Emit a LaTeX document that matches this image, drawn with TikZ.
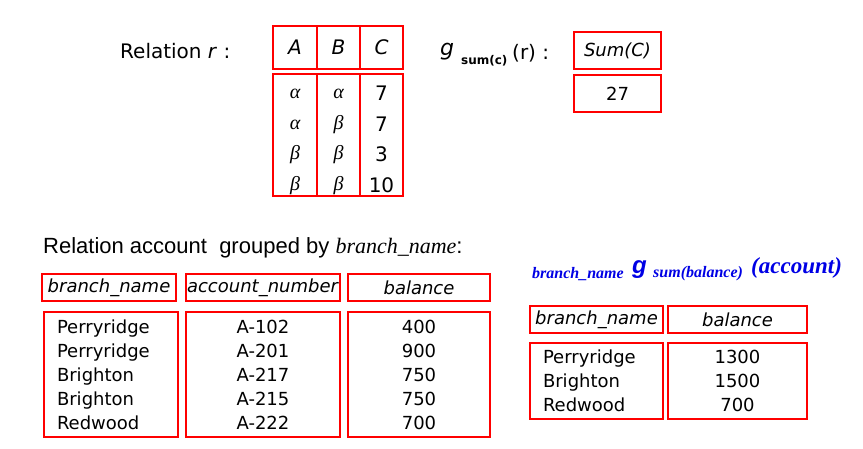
\documentclass[tikz,border=0pt]{standalone}
\usepackage{fontspec}
\setmainfont{DejaVu Sans}
\newfontfamily\arialfont{Liberation Sans}
\newfontfamily\timesfont{Liberation Serif}
\newcommand{\grk}[1]{{\timesfont\itshape #1}}
\colorlet{boxRed}{red}
\colorlet{titleBlue}{blue!90!black}

\begin{document}
\begin{tikzpicture}[x = 1pt, y = -1pt,
	cell/.style = {draw = boxRed, line width = 1.3pt, inner sep = 0pt, font = \fontsize{18}{24}\selectfont},
	big/.style = {font = \fontsize{20}{30.5}\selectfont},
	blue title/.style = {titleBlue, inner sep = 0pt, anchor = base west}]
		\useasboundingbox (0, 0) rectangle (863, 448);
		%%%%%%%%%%%%% relation r
		\node [anchor = base west, inner sep = 0pt, big] (relR) at (120, 58) {Relation \textit{r} :};
		\node [cell, big, minimum width = 44, minimum height = 43] (hA) at (295, 47.5) {\textit{A}};
		\node [cell, big, minimum width = 43, minimum height = 43] (hB) at (338.5, 47.5) {\textit{B}};
		\node [cell, big, minimum width = 43, minimum height = 43] (hC) at (381.5, 47.5) {\textit{C}};
		\node [cell, big, minimum width = 44, minimum height = 122, align = center] (bA) at (295, 135)
			{\rule{0pt}{23pt}\grk{α}\\\grk{α}\\\grk{β}\\\grk{β}};
		\node [cell, big, minimum width = 43, minimum height = 122, align = center] (bB) at (338.5, 135)
			{\rule{0pt}{23pt}\grk{α}\\\grk{β}\\\grk{β}\\\grk{β}};
		\node [cell, big, minimum width = 43, minimum height = 122, align = center] (bC) at (381.5, 135)
			{\rule{0pt}{23pt}7\\7\\3\\10};
		%%%%%%%%%%%%% g sum(c) (r)
		\node [anchor = base west, inner sep = 0pt, font = \fontsize{22}{26}\selectfont\itshape] (gOp) at (440, 55) {g};
		\node [anchor = base west, inner sep = 0pt, font = \fontsize{12}{14}\selectfont\bfseries] (gSub) at (461, 64) {sum(c)};
		\node [anchor = base west, inner sep = 0pt, big] (gArg) at (512, 59) {(r) :};
		\node [cell, minimum width = 87, minimum height = 37] (hSum) at (617.5, 50.5) {\textit{Sum(C)}};
		\node [cell, minimum width = 87, minimum height = 37] (bSum) at (617.5, 93.5) {27};
		%%%%%%%%%%%%% relation account
		\node [anchor = base west, inner sep = 0pt, font = \fontsize{22}{26}\selectfont] (relAcc) at (43, 253)
			{\arialfont Relation account\ \ grouped by \timesfont\itshape branch\_name\upshape\arialfont:};
		\node [cell, minimum width = 134, minimum height = 27] (hBn) at (109, 287.5) {\textit{branch\_name}};
		\node [cell, minimum width = 154, minimum height = 27] (hAn) at (263, 287.5) {\textit{account\_number}};
		\node [cell, minimum width = 142, minimum height = 27] (hBal) at (419, 287.5) {\textit{balance}};
		\node [cell, minimum width = 134, minimum height = 125, text width = 108, align = left] (bBn) at (111, 374.5)
			{Perryridge\\Perryridge\\Brighton\\Brighton\\Redwood};
		\node [cell, minimum width = 154, minimum height = 125, align = center] (bAn) at (263, 374.5)
			{A-102\\A-201\\A-217\\A-215\\A-222};
		\node [cell, minimum width = 142, minimum height = 125, align = center] (bBal) at (419, 374.5)
			{400\\900\\750\\750\\700};
		%%%%%%%%%%%%% branch_name g sum(balance) (account)
		\node [blue title, font = \fontsize{16}{18}\selectfont\timesfont\bfseries\itshape] (tBn) at (532, 278) {branch\_name};
		\node [blue title, font = \fontsize{24}{26}\selectfont\arialfont\bfseries\itshape] (tG) at (632, 273) {g};
		\node [blue title, font = \fontsize{16}{18}\selectfont\timesfont\bfseries\itshape] (tSum) at (653, 277) {sum(balance)};
		\node [blue title, font = \fontsize{23}{25}\selectfont\timesfont\bfseries\itshape] (tAcc) at (751, 273) {(account)};
		\node [cell, minimum width = 133, minimum height = 27] (hRBn) at (596.5, 319.5) {\textit{branch\_name}};
		\node [cell, minimum width = 139, minimum height = 27] (hRBal) at (737.5, 319.5) {\textit{balance}};
		\node [cell, minimum width = 133, minimum height = 76, text width = 107, align = left] (bRBn) at (596.5, 381)
			{Perryridge\\Brighton\\Redwood};
		\node [cell, minimum width = 139, minimum height = 76, align = center] (bRBal) at (737.5, 381)
			{1300\\1500\\700};
\end{tikzpicture}
\end{document}
